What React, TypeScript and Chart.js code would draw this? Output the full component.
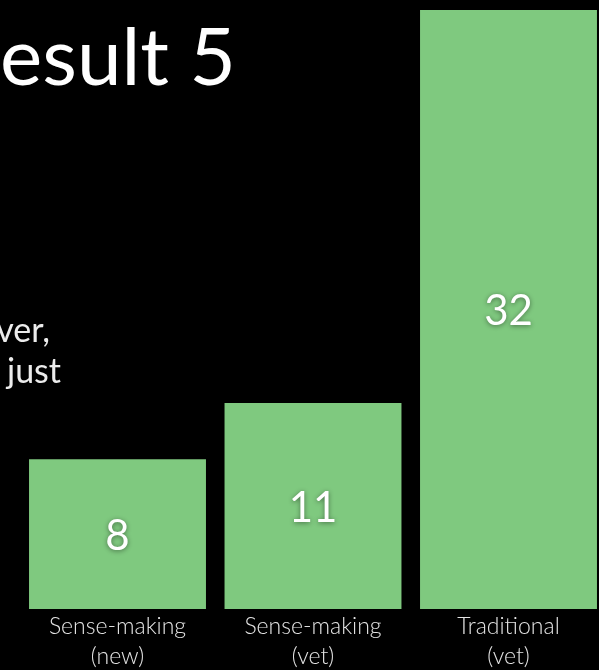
import React, { useEffect, useRef } from "react";
import { Chart, registerables } from "chart.js";

Chart.register(...registerables);

// ---- data ----
const categories: string[][] = [
  ["Sense-making", "(new)"],
  ["Sense-making", "(vet)"],
  ["Traditional", "(vet)"],
];
const values: number[] = [8, 11, 32];
const yMax = 32;

const titleText = "esult 5";
const bodyLines: string[] = ["ver,", "just"];

const GREEN = "rgb(127, 201, 127)";
const FONT = "Lato, 'Open Sans', sans-serif";

const barValueLabels = {
  id: "barValueLabels",
  afterDatasetsDraw(chart: any) {
    const ctx = chart.ctx;
    const meta = chart.getDatasetMeta(0);
    ctx.save();
    ctx.font = `400 42px ${FONT}`;
    ctx.fillStyle = "#ffffff";
    ctx.textAlign = "center";
    ctx.textBaseline = "middle";
    ctx.shadowColor = "rgba(0,0,0,0.45)";
    ctx.shadowBlur = 5;
    ctx.shadowOffsetX = 0;
    ctx.shadowOffsetY = 1;
    meta.data.forEach((bar: any, i: number) => {
      const midY = (bar.y + bar.base) / 2 + 2;
      ctx.fillText(String(chart.data.datasets[0].data[i]), bar.x, midY);
    });
    ctx.restore();
  },
};

export default function App() {
  const canvasRef = useRef<HTMLCanvasElement | null>(null);

  useEffect(() => {
    document.body.style.margin = "0";
    document.body.style.background = "#000";
    const canvas = canvasRef.current;
    if (!canvas) return;
    const chart = new Chart(canvas, {
      type: "bar",
      data: {
        labels: categories,
        datasets: [
          {
            data: values,
            backgroundColor: GREEN,
            borderWidth: 0,
            categoryPercentage: 1,
            barPercentage: 0.905,
          },
        ],
      },
      options: {
        responsive: false,
        animation: false,
        devicePixelRatio: 1,
        layout: { padding: { left: 19.75, right: 13.75, top: 10, bottom: 0 } },
        plugins: {
          legend: { display: false },
          tooltip: { enabled: false },
        },
        scales: {
          x: {
            grid: { display: false, drawTicks: false },
            border: { display: false },
            ticks: {
              color: "#e4e4e4",
              padding: 3,
              maxRotation: 0,
              autoSkip: false,
              font: { family: FONT, size: 23, weight: "300", lineHeight: "30px" as any },
            },
            afterFit: (scale: any) => {
              scale.height = 61;
            },
          },
          y: {
            display: false,
            min: 0,
            max: yMax,
          },
        },
      },
      plugins: [barValueLabels],
    });
    return () => chart.destroy();
  }, []);

  return (
    <div
      style={{
        position: "relative",
        width: 599,
        height: 670,
        overflow: "hidden",
        background: "#000",
      }}
    >
      <div style={{ position: "absolute", left: 0, top: 0 }}>
        <canvas ref={canvasRef} width={620} height={670} style={{ display: "block" }} />
      </div>
      <div
        style={{
          position: "absolute",
          left: 0,
          top: 14,
          fontFamily: FONT,
          fontSize: 80,
          lineHeight: "80px",
          color: "#ffffff",
          whiteSpace: "nowrap",
        }}
      >
        {titleText}
      </div>
      <div
        style={{
          position: "absolute",
          right: 549,
          top: 309,
          fontFamily: FONT,
          fontSize: 34,
          lineHeight: "40px",
          color: "#ececec",
          whiteSpace: "nowrap",
        }}
      >
        {bodyLines[0]}
      </div>
      <div
        style={{
          position: "absolute",
          left: 7,
          top: 350,
          fontFamily: FONT,
          fontSize: 34,
          lineHeight: "40px",
          color: "#ececec",
          whiteSpace: "nowrap",
        }}
      >
        {bodyLines[1]}
      </div>
    </div>
  );
}
